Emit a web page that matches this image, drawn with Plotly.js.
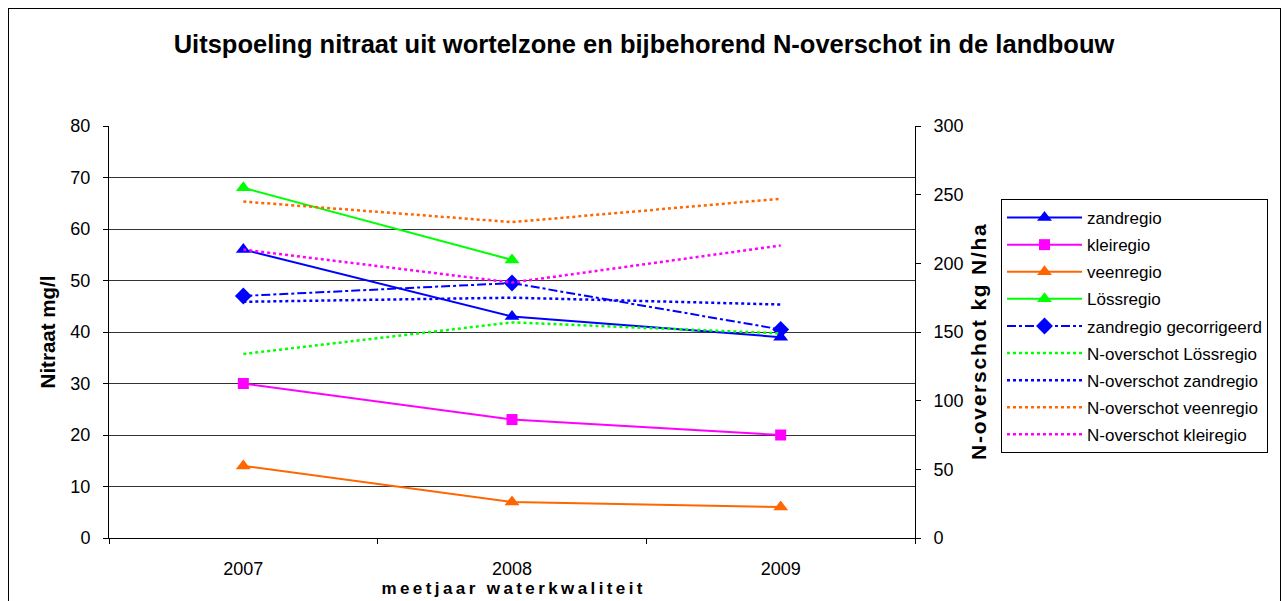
<!DOCTYPE html>
<html>
<head>
<meta charset="utf-8">
<script src="https://cdn.plot.ly/plotly-3.0.1.min.js"></script>
<style>
  html, body { margin: 0; padding: 0; background: #fff; }
  #wrap { position: relative; width: 1288px; height: 601px; overflow: hidden; }
  #chart { width: 1288px; height: 601px; }
  #frame { position: absolute; left: 8px; top: 8px; width: 1271px; height: 620px; border: 1px solid #000; pointer-events: none; }
</style>
</head>
<body>
<div id="wrap"><div id="chart"></div><div id="frame"></div></div>
<script>
const years = ['2007', '2008', '2009'];

const zandregio = [56, 43, 39];
const kleiregio = [30, 23, 20];
const veenregio = [14, 7, 6];
const loessregio = [68, 54, null];
const zandregioGecorrigeerd = [47, 49.5, 40.5];

const nOverschotLoess = [134, 157, 149];
const nOverschotZand = [172, 175, 170];
const nOverschotVeen = [245, 230, 247];
const nOverschotKlei = [210, 186, 213];

const BLUE = '#0000FF', MAG = '#FF00FF', ORA = '#FF6600', GRN = '#00FF00';
const F = 'Liberation Sans, Arial, sans-serif';
const spaced = (s, sp) => s.split('').join(sp);
const xTitle = spaced('meetjaar waterkwaliteit', '\u2009');
const y2Title = spaced('N-overschot kg N/ha', '\u200A');

function solid(name, y, color, symbol, size) {
  return { type: 'scatter', mode: 'lines+markers', name: name, x: years, y: y,
    legendgroup: name,
    line: { color: color, width: 2 },
    marker: { color: color, symbol: symbol, size: size } };
}
function dotted(name, y, color) {
  return { type: 'scatter', mode: 'lines', name: name, x: years, y: y, yaxis: 'y2',
    legendgroup: name,
    line: { color: color, width: 2.5, dash: 'dot' } };
}

const traces = [
  dotted('N-overschot Lössregio', nOverschotLoess, GRN),
  dotted('N-overschot zandregio', nOverschotZand, BLUE),
  dotted('N-overschot veenregio', nOverschotVeen, ORA),
  dotted('N-overschot kleiregio', nOverschotKlei, MAG),
  solid('zandregio', zandregio, BLUE, 'triangle-up', 13),
  solid('kleiregio', kleiregio, MAG, 'square', 11),
  solid('veenregio', veenregio, ORA, 'triangle-up', 13),
  solid('Lössregio', loessregio, GRN, 'triangle-up', 13),
  { type: 'scatter', mode: 'lines+markers', name: 'zandregio gecorrigeerd', x: years, y: zandregioGecorrigeerd,
    legendgroup: 'zandregio gecorrigeerd',
    line: { color: BLUE, width: 2, dash: 'dashdot' },
    marker: { color: BLUE, symbol: 'diamond', size: 13 } }
];
traces.forEach((t, i) => { t.legendrank = i < 4 ? 600 + i : 100 + i; });

const layout = {
  width: 1288, height: 601,
  paper_bgcolor: '#fff', plot_bgcolor: '#fff',
  margin: { l: 109, r: 373, t: 126, b: 63, pad: 0 },
  font: { family: F, size: 18, color: '#000' },
  title: { text: '<b>Uitspoeling nitraat uit wortelzone en bijbehorend N-overschot in de landbouw</b>',
    font: { family: F, size: 25.5, color: '#000' }, x: 0.5, xanchor: 'center', xref: 'container',
    y: 1 - 44 / 601, yanchor: 'middle', yref: 'container' },
  xaxis: {
    type: 'category', range: [-0.5, 2.5], fixedrange: true,
    showline: true, linecolor: '#000', linewidth: 1, mirror: false,
    ticks: 'outside', tickson: 'boundaries', ticklen: 5, tickcolor: '#000',
    ticklabelstandoff: 14,
    showgrid: false, zeroline: false,
    tickfont: { family: F, size: 18 },
    title: { text: '<b>' + xTitle + '</b>', font: { family: F, size: 17 }, standoff: 0 }
  },
  yaxis: {
    range: [0, 80], dtick: 10, fixedrange: true,
    showline: true, linecolor: '#000', linewidth: 1,
    ticks: 'outside', ticklen: 5, tickcolor: '#000',
    ticklabelstandoff: 9,
    showgrid: true, gridcolor: '#333', gridwidth: 1, zeroline: false,
    tickfont: { family: F, size: 18 },
    title: { text: '<b>Nitraat mg/l</b>', font: { family: F, size: 20.5 }, standoff: 9 }
  },
  yaxis2: {
    overlaying: 'y', side: 'right', range: [0, 300], dtick: 50, fixedrange: true,
    showline: true, linecolor: '#000', linewidth: 1,
    ticks: 'outside', ticklen: 5, tickcolor: '#000',
    ticklabelstandoff: 9,
    showgrid: false, zeroline: false,
    tickfont: { family: F, size: 18 }
  },
  annotations: [{
    text: '<b>' + y2Title + '</b>', textangle: -90, showarrow: false,
    xref: 'paper', yref: 'paper', x: (978 - 109) / 806, y: (538 - 342) / 412,
    xanchor: 'center', yanchor: 'middle',
    font: { family: F, size: 21, color: '#000' }
  }],
  showlegend: true,
  legend: {
    x: (1001 - 109) / 806, xanchor: 'left', y: (538 - 199) / 412, yanchor: 'top',
    bgcolor: '#fff', bordercolor: '#000', borderwidth: 1,
    font: { family: F, size: 17, color: '#000' },
    itemwidth: 75, tracegroupgap: 2, traceorder: 'grouped'
  }
};

Plotly.newPlot('chart', traces, layout, { displayModeBar: false, staticPlot: true });
</script>
</body>
</html>
